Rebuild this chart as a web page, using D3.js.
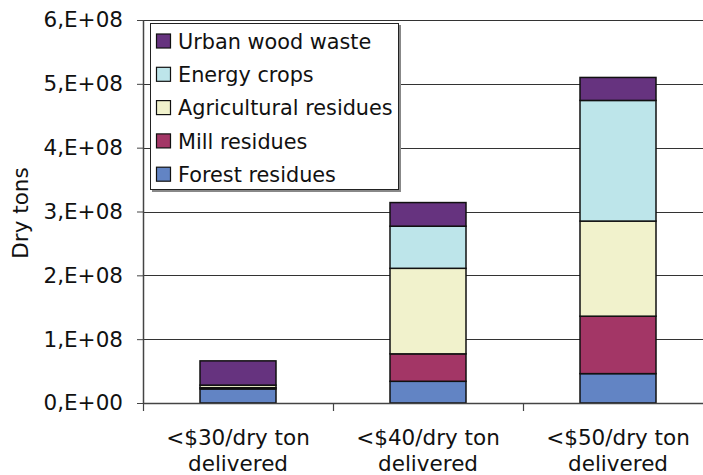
<!DOCTYPE html>
<html>
<head>
<meta charset="utf-8">
<script src="https://cdn.jsdelivr.net/npm/d3@7"></script>
<style>
  html, body { margin: 0; padding: 0; background: #fff; }
  svg { display: block; font-family: "DejaVu Sans", Verdana, sans-serif; }
</style>
</head>
<body>
<svg id="chart" width="703" height="475"></svg>
<script>
// ---- data ----
const categories = ["<$30/dry ton delivered", "<$40/dry ton delivered", "<$50/dry ton delivered"];
const seriesNames = ["Forest residues", "Mill residues", "Agricultural residues", "Energy crops", "Urban wood waste"];
const forestResidues = [22e6, 34e6, 46e6];
const millResidues   = [2e6, 43e6, 90e6];
const agResidues     = [4e6, 134e6, 149e6];
const energyCrops    = [0, 66e6, 189e6];
const urbanWoodWaste = [38e6, 37e6, 36e6];
const yTicks = [0, 1e8, 2e8, 3e8, 4e8, 5e8, 6e8];
const yTickLabels = ["0,E+00", "1,E+08", "2,E+08", "3,E+08", "4,E+08", "5,E+08", "6,E+08"];
const colors = ["#6284c4", "#a33666", "#f1f2cc", "#bde5ea", "#66337f"];

// ---- layout ----
const svg = d3.select("#chart");
const pLeft = 143, pTop = 20, pRight = 713, pBottom = 403;
const fontSize = 21.5;
const legendFontSize = 20.8;

const x = d3.scaleBand().domain(categories).range([pLeft, pRight]).paddingInner(0.6).paddingOuter(0.3);
const xTickScale = d3.scaleLinear().domain([0, categories.length]).range([pLeft, pRight]);
const y = d3.scaleLinear().domain([0, 6e8]).range([pBottom, pTop]);

// gridlines
svg.append("g").selectAll("line").data(yTicks.slice(1)).join("line")
  .attr("x1", pLeft).attr("x2", pRight)
  .attr("y1", d => Math.round(y(d)) + 0.5).attr("y2", d => Math.round(y(d)) + 0.5)
  .attr("stroke", "#333").attr("stroke-width", 1.2);

// stacked data
const rows = categories.map((c, i) => ({
  cat: c,
  "Forest residues": forestResidues[i],
  "Mill residues": millResidues[i],
  "Agricultural residues": agResidues[i],
  "Energy crops": energyCrops[i],
  "Urban wood waste": urbanWoodWaste[i]
}));
const stacked = d3.stack().keys(seriesNames)(rows);

svg.append("g").selectAll("g").data(stacked).join("g")
  .attr("fill", (d, i) => colors[i])
  .selectAll("rect").data(d => d).join("rect")
  .attr("x", d => x(d.data.cat))
  .attr("width", x.bandwidth())
  .attr("y", d => y(d[1]))
  .attr("height", d => y(d[0]) - y(d[1]))
  .attr("stroke", "#111").attr("stroke-width", 1.5);

// y axis
const yAxis = d3.axisLeft(y).tickValues(yTicks).tickFormat((d, i) => yTickLabels[i]).tickSize(6).tickPadding(14);
const gy = svg.append("g").attr("transform", `translate(${pLeft},0)`).call(yAxis);
gy.select(".domain").attr("stroke", "#444").attr("stroke-width", 1.5).attr("d", `M0.5,${pTop}V${pBottom}`);
gy.selectAll(".tick line").attr("stroke", "#444");
gy.selectAll(".tick text").attr("font-size", fontSize).attr("fill", "#111")
  .attr("font-family", "DejaVu Sans, Verdana, sans-serif");

// x axis
const gx = svg.append("g").attr("transform", `translate(0,${pBottom})`);
gx.append("line").attr("x1", pLeft).attr("x2", pRight).attr("y1", 0.5).attr("y2", 0.5)
  .attr("stroke", "#444").attr("stroke-width", 1.5);
gx.selectAll("line.tk").data(d3.range(categories.length + 1)).join("line").attr("class", "tk")
  .attr("x1", d => Math.round(xTickScale(d)) + 0.5).attr("x2", d => Math.round(xTickScale(d)) + 0.5)
  .attr("y1", 0).attr("y2", 8).attr("stroke", "#444").attr("stroke-width", 1.2);
const xl = gx.selectAll("text").data(categories).join("text")
  .attr("text-anchor", "middle")
  .attr("font-size", fontSize).attr("fill", "#111")
  .attr("transform", d => `translate(${x(d) + x.bandwidth() / 2},0)`);
xl.append("tspan").attr("x", 0).attr("y", 42).text(d => d.split(" delivered")[0]);
xl.append("tspan").attr("x", 0).attr("y", 68).text("delivered");

// y title
svg.append("text")
  .attr("transform", `translate(28,213) rotate(-90)`)
  .attr("text-anchor", "middle")
  .attr("font-size", fontSize).attr("fill", "#111")
  .text("Dry tons");

// legend
const lg = svg.append("g").attr("transform", "translate(150,23)");
lg.append("rect").attr("x", 2).attr("y", 2).attr("width", 249).attr("height", 167).attr("fill", "#888");
lg.append("rect").attr("x", 0.5).attr("y", 0.5).attr("width", 248).attr("height", 166)
  .attr("fill", "#fff").attr("stroke", "#222").attr("stroke-width", 1);
const legendOrder = seriesNames.map((n, i) => ({ name: n, color: colors[i] })).reverse();
const li = lg.selectAll("g.li").data(legendOrder).join("g").attr("class", "li")
  .attr("transform", (d, i) => `translate(6,${18.5 + i * 33.3})`);
li.append("rect").attr("x", 0.5).attr("y", -7.5).attr("width", 14).attr("height", 14)
  .attr("fill", d => d.color).attr("stroke", "#111").attr("stroke-width", 1.2);
li.append("text").attr("x", 22).attr("y", 0).attr("dy", "0.35em")
  .attr("font-size", legendFontSize).attr("fill", "#111").text(d => d.name);
</script>
</body>
</html>
